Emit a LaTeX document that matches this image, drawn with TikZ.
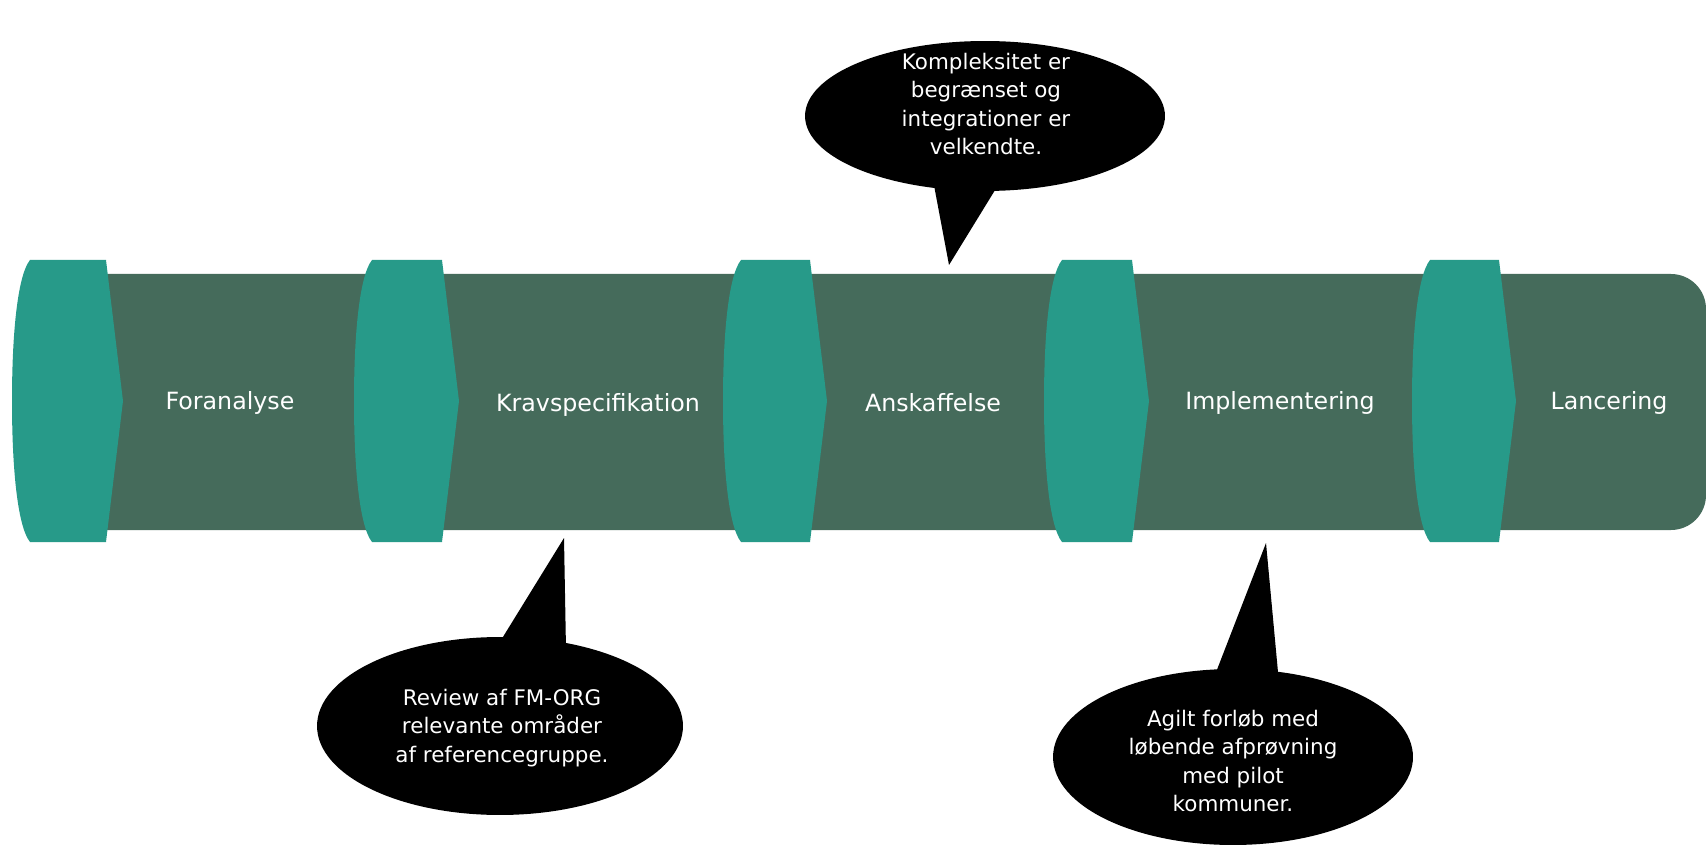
\documentclass[tikz,border=0pt]{standalone}
\usepackage{fontspec}
\setmainfont{DejaVu Sans}
\usepackage{tikz}
\usetikzlibrary{shapes.geometric}
\definecolor{bandgreen}{HTML}{456B5B}
\definecolor{stageteal}{HTML}{279A89}
\tikzset{stage label/.style={text=white,font=\fontsize{13.5}{16}\selectfont,inner sep=0pt},
         bubble/.style={ellipse,fill=black,inner sep=0pt},
         bubble text/.style={text=white,align=center,inner sep=0pt,font=\fontsize{12.2}{16.2}\selectfont},
            }

\begin{document}
\begin{tikzpicture}[x=0.02cm,y=-0.02cm]
    \useasboundingbox (0,0) rectangle (1706,847);

    % band
    \fill[bandgreen] (100,530) -- (100,274) [rounded corners=0.7cm] -- (1706,274) -- (1706,530) [sharp corners] -- cycle;

    % chevrons
    \foreach \x/\w in {12/94,354/88,723/87,1044/88,1412/87}
      \fill[stageteal] (\x+18,260) -- (\x+\w,260) -- (\x+\w+17,401) -- (\x+\w,542) -- (\x+18,542)
        .. controls (\x+6,527) and (\x,472) .. (\x,401)
        .. controls (\x,330) and (\x+6,275) .. (\x+18,260) -- cycle;

    \node[stage label] (foranalyse) at (230,403) {Foranalyse};
    \node[stage label] (krav) at (598,405) {Kravspecifikation};
    \node[stage label] (anskaffelse) at (933,403) {Anskaffelse};
    \node[stage label] (impl) at (1280,403) {Implementering};
    \node[stage label] (lancering) at (1609,403) {Lancering};

    % callouts
    \node[bubble,minimum width=7.2cm,minimum height=3cm] (top) at (985,116) {};
    \coordinate (toptip) at (949,265);
    \fill (933,180) -- (toptip) -- (1000,182) -- cycle;
    \node[bubble text] (toptext) at (986,104) {Kompleksitet er\\begrænset og\\integrationer er\\velkendte.};

    \node[bubble,minimum width=7.32cm,minimum height=3.56cm] (review) at (500,726) {};
    \coordinate (reviewtip) at (564,538);
    \fill (498,645) -- (reviewtip) -- (566,650) -- cycle;
    \node[bubble text] (reviewtext) at (502,728) {Review af FM-ORG\\relevante områder\\af referencegruppe.};

    \node[bubble,minimum width=7.2cm,minimum height=3.52cm] (agil) at (1233,757) {};
    \coordinate (agiltip) at (1266,543);
    \fill (1213,680) -- (agiltip) -- (1279,683) -- cycle;
    \node[bubble text] (agiltext) at (1233,761) {Agilt forløb med\\løbende afprøvning\\med pilot\\kommuner.};
  \end{tikzpicture}
\end{document}
